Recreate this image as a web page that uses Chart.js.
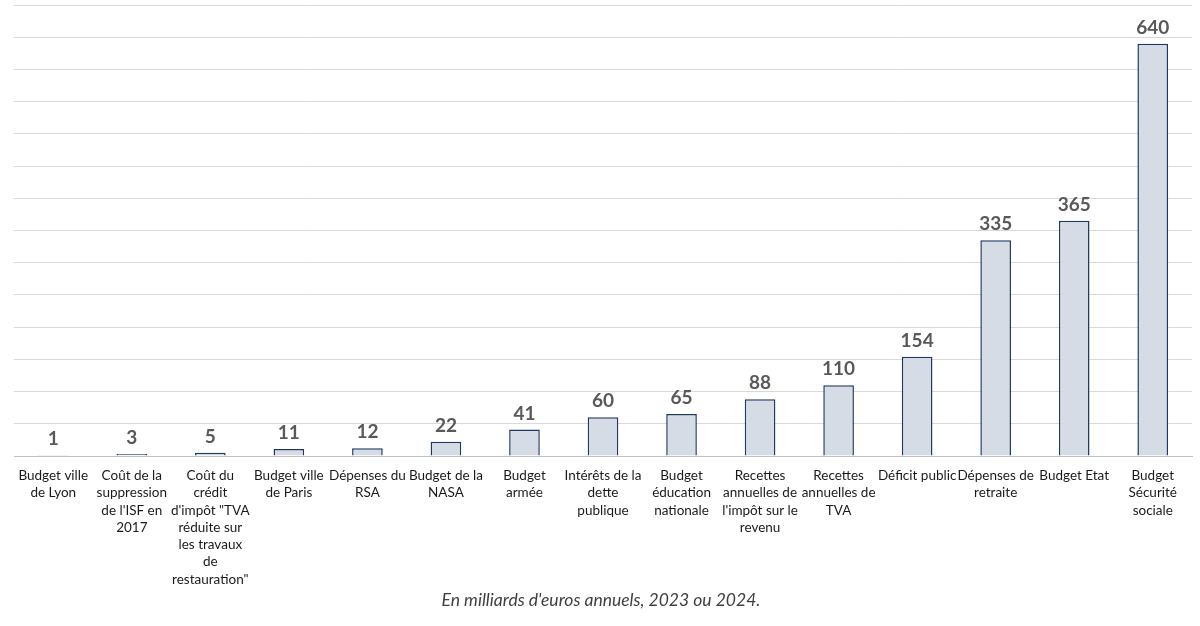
<!DOCTYPE html>
<html>
<head>
<meta charset="utf-8">
<script src="https://cdn.jsdelivr.net/npm/chart.js@4"></script>
<style>
  html, body { margin: 0; padding: 0; background: #fff; overflow: hidden; }
  canvas { display: block; }
</style>
</head>
<body>
<canvas id="chart" width="1200" height="626"></canvas>
<script>
// Category labels, already split into lines like in the original
const categories = [
    ['Budget ville', 'de Lyon'],
    ['Coût de la', 'suppression', "de l'ISF en", '2017'],
    ['Coût du', 'crédit', 'd\'impôt "TVA', 'réduite sur', 'les travaux', 'de', 'restauration"'],
    ['Budget ville', 'de Paris'],
    ['Dépenses du', 'RSA'],
    ['Budget de la', 'NASA'],
    ['Budget', 'armée'],
    ['Intérêts de la', 'dette', 'publique'],
    ['Budget', 'éducation', 'nationale'],
    ['Recettes', 'annuelles de', "l'impôt sur le", 'revenu'],
    ['Recettes', 'annuelles de', 'TVA'],
    ['Déficit public'],
    ['Dépenses de', 'retraite'],
    ['Budget Etat'],
    ['Budget', 'Sécurité', 'sociale']
];
const values = [1, 3, 5, 11, 12, 22, 41, 60, 65, 88, 110, 154, 335, 365, 640];
const caption = "En milliards d'euros annuels, 2023 ou 2024.";

const FONT = 'Lato, "Open Sans", sans-serif';

// Draw the value above each bar
const valueLabels = {
    id: 'valueLabels',
    afterDatasetsDraw(chart) {
        const ctx = chart.ctx;
        const meta = chart.getDatasetMeta(0);
        ctx.save();
        ctx.font = 'bold 19px ' + FONT;
        ctx.fillStyle = '#595959';
        ctx.textAlign = 'center';
        ctx.textBaseline = 'alphabetic';
        meta.data.forEach((bar, i) => {
            ctx.fillText(values[i], bar.x, bar.y - 10);
        });
        ctx.restore();
    }
};

// Caption under the axis labels
const captionPlugin = {
    id: 'captionPlugin',
    afterDraw(chart) {
        const ctx = chart.ctx;
        ctx.save();
        ctx.font = 'italic 17.5px ' + FONT;
        ctx.fillStyle = '#404040';
        ctx.textAlign = 'center';
        ctx.textBaseline = 'middle';
        ctx.fillText(caption, 601, 600);
        ctx.restore();
    }
};

new Chart(document.getElementById('chart'), {
    type: 'bar',
    data: {
        labels: categories,
        datasets: [{
            data: values,
            backgroundColor: '#D6DCE5',
            borderColor: '#1F3864',
            borderWidth: 1.5,
            barPercentage: 0.39,
            categoryPercentage: 1
        }]
    },
    options: {
        responsive: false,
        animation: false,
        devicePixelRatio: 1,
        layout: { padding: { left: 14, right: 8, top: 5, bottom: 0 } },
        plugins: {
            legend: { display: false },
            tooltip: { enabled: false }
        },
        scales: {
            x: {
                grid: { display: false },
                border: { color: '#BFBFBF', width: 1 },
                ticks: {
                    autoSkip: false,
                    maxRotation: 0,
                    minRotation: 0,
                    padding: 3,
                    color: '#1a1a1a',
                    font: { family: FONT, size: 13.5, lineHeight: 1.28 }
                },
                afterFit(scale) { scale.height = 170; }
            },
            y: {
                min: 0,
                max: 700,
                ticks: { display: false, stepSize: 50 },
                grid: { color: '#D9D9D9', lineWidth: 1, drawTicks: false },
                border: { display: false },
                afterFit(scale) { scale.width = 0; }
            }
        }
    },
    plugins: [valueLabels, captionPlugin]
});
</script>
</body>
</html>
